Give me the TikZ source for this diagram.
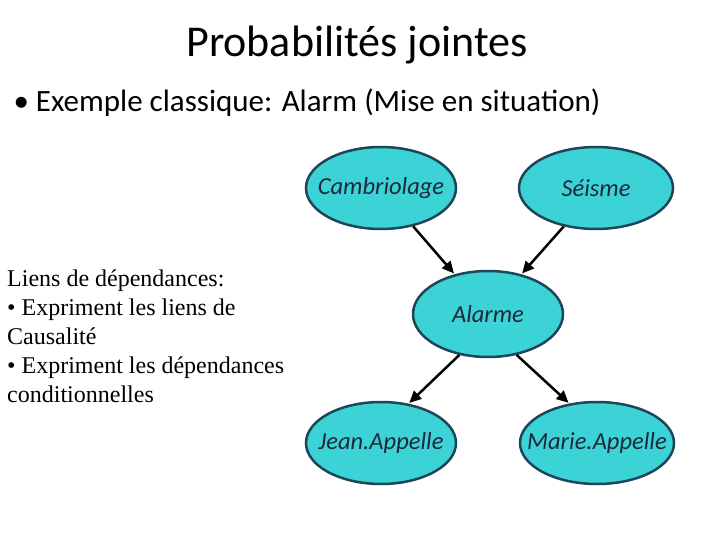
\documentclass[tikz,border=0pt]{standalone}
\usepackage{fontspec}
\setmainfont{Carlito}
\newfontfamily\tnr{Liberation Serif}
\usetikzlibrary{shapes.geometric,arrows.meta}
\definecolor{cy}{RGB}{60,211,214}
\definecolor{bd}{RGB}{30,70,90}
\definecolor{tx}{RGB}{30,40,60}
\begin{document}
\begin{tikzpicture}[x=1pt,y=-1pt,
 ell/.style={ellipse,fill=cy,draw=bd,line width=2.5pt,minimum width=150pt,minimum height=82pt,inner ysep=0pt,inner xsep=-16pt,font=\itshape\fontsize{24.5}{28}\selectfont,text=tx},
 arr/.style={-{Triangle[length=12pt,width=11pt]},line width=2.5pt,shorten >=1pt}]
\useasboundingbox (0,0) rectangle (720,540);
\node (title) at (357,45) {\fontsize{44}{48}\selectfont Probabilités jointes};
\node[anchor=west] (sub) at (10,103) {\fontsize{31}{34}\selectfont • Exemple classique: Alarm (Mise en situation)};
\node[anchor=north west,align=left,inner sep=0pt,font=\tnr\fontsize{24}{29}\selectfont] (left) at (7,270) {Liens de dépendances:\\• Expriment les liens de\\Causalité\\• Expriment les dépendances\\conditionnelles};
\node[ell] (c) at (381,188) {Cambriolage};
\node[ell,minimum width=154pt] (s) at (596,188) {Séisme};
\node[ell,minimum height=86pt] (a) at (488,314) {Alarme};
\node[ell] (j) at (381,443) {Jean.Appelle};
\node[ell,minimum width=154pt] (m) at (597,443) {Marie.Appelle};
\draw[arr] (c.-50) -- (a.130);
\draw[arr] (s.-130) -- (a.50);
\draw[arr] (a.-125) -- (j.55);
\draw[arr] (a.-55) -- (m.125);
\end{tikzpicture}
\end{document}
